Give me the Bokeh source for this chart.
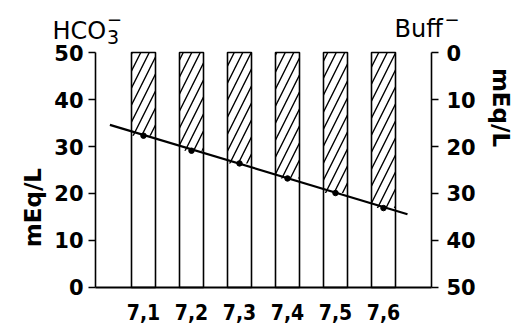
from math import pi

from bokeh.embed import file_html
from bokeh.models import (ColumnDataSource, FixedTicker, Label, LinearAxis,
                          Range1d)
from bokeh.plotting import figure
from bokeh.resources import INLINE

# pH values and the bicarbonate read at each pH (mEq/L); buffer base fills up to 50
ph = [7.1, 7.2, 7.3, 7.4, 7.5, 7.6]
ph_labels = ["7,1", "7,2", "7,3", "7,4", "7,5", "7,6"]
hco3 = [32.3, 29.1, 26.4, 23.2, 20.1, 16.9]
total = [50, 50, 50, 50, 50, 50]

# fitted line through the points
fit_ph = [7.03, 7.65]
fit_hco3 = [34.6, 15.6]

y_ticks = [0, 10, 20, 30, 40, 50]

src = ColumnDataSource(dict(ph=ph, hco3=hco3, total=total, base=[0] * len(ph)))

FONT = "DejaVu Sans"
NARROW = "DejaVu Sans Condensed, Liberation Sans"

# the plotting area spans the whole page; axes sit at fixed data positions
p = figure(width=514, height=326, output_backend="svg", toolbar_location=None,
           x_range=Range1d(6.80208, 7.87292), y_range=Range1d(-8.298, 61.064),
           min_border=0, x_axis_location=None, y_axis_location=None)
p.outline_line_color = None
p.xgrid.visible = False
p.ygrid.visible = False
p.background_fill_color = "white"
p.border_fill_color = "white"

# hatched buffer-base part of each column
p.vbar(x="ph", width=0.05, bottom="hco3", top="total", source=src,
       fill_color="white", line_color=None,
       hatch_pattern="/", hatch_color="black", hatch_weight=1.4, hatch_scale=17)
# full column outline
p.vbar(x="ph", width=0.05, bottom="base", top="total", source=src,
       fill_color=None, line_color="black", line_width=1.6)

p.line(fit_ph, fit_hco3, line_color="black", line_width=2.2)
p.scatter(x="ph", y="hco3", source=src, size=5.5, color="black")


def style_axis(ax, standoff):
    ax.major_tick_in = 0
    ax.minor_tick_line_color = None
    ax.axis_line_color = "black"
    ax.major_tick_line_color = "black"
    ax.major_label_text_color = "black"
    ax.major_label_text_font = FONT
    ax.major_label_text_font_style = "bold"
    ax.major_label_text_font_size = "21px"
    ax.major_label_standoff = standoff


# HCO3- scale on the left
ya = LinearAxis(fixed_location=7.0, bounds=(0, 50), ticker=FixedTicker(ticks=y_ticks))
style_axis(ya, 5)
ya.major_tick_out = 7
ya.axis_line_width = 1.6
ya.major_tick_line_width = 1.6
p.add_layout(ya, "left")

# Buff- scale on the right, 0 at the top
p.extra_y_ranges = {"buff": Range1d(58.298, -11.064)}
ra = LinearAxis(y_range_name="buff", fixed_location=7.7, bounds=(0, 50),
                ticker=FixedTicker(ticks=y_ticks))
style_axis(ra, 8)
ra.major_tick_out = 7
ra.axis_line_width = 1.6
ra.major_tick_line_width = 1.6
p.add_layout(ra, "right")

# pH along the base line
xa = LinearAxis(fixed_location=0, bounds=(7.0, 7.7), ticker=FixedTicker(ticks=ph),
                major_label_overrides={x: s for x, s in zip(ph, ph_labels)})
style_axis(xa, 17)
xa.major_tick_out = 0
xa.major_tick_line_color = None
xa.axis_line_width = 2.2
xa.major_label_text_font = NARROW
xa.major_label_text_font_size = "21px"
p.add_layout(xa, "below")


def label(x, y, text, size, style="normal", align="left", baseline="alphabetic", angle=0.0):
    p.add_layout(Label(x=x, y=y, text=text, text_font=FONT,
                       text_font_size=size, text_font_style=style,
                       text_align=align, text_baseline=baseline,
                       angle=angle, text_color="black"))


# axis headings
label(6.9104, 54.68, "HCO", "24px")
label(7.0240, 53.3, "3", "19px")
label(7.0240, 57.0, "\u2212", "18px")
label(7.623, 54.9, "Buff", "24px")
label(7.727, 57.0, "\u2212", "18px")

# unit labels on both sides
label(6.869, 17.0, "mEq/L", "23px", style="bold", align="center",
      baseline="middle", angle=pi / 2)
label(7.844, 38.3, "mEq/L", "23px", style="bold", align="center",
      baseline="middle", angle=-pi / 2)

open("out.html", "w").write(file_html(p, INLINE))
